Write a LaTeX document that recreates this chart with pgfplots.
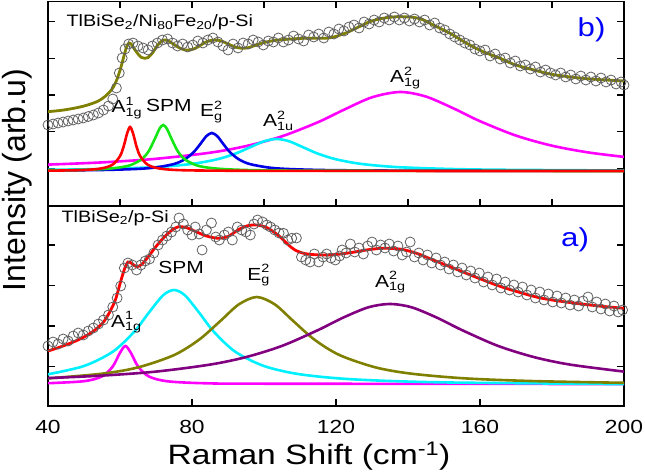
\documentclass[border=0pt]{standalone}
\usepackage{pgfplots}
\pgfplotsset{compat=1.18}
\usepackage{fontspec}
\setmainfont{Liberation Sans}[FakeStretch=1.2]
\newfontfamily\plainsans{Liberation Sans}

\definecolor{fitolive}{RGB}{128,128,0}
\definecolor{cgreen}{RGB}{20,230,20}
\definecolor{cblue}{RGB}{0,0,230}
\definecolor{ccyan}{RGB}{0,240,255}
\definecolor{cmag}{RGB}{255,0,255}
\definecolor{cpurple}{RGB}{128,0,128}
\definecolor{circ}{RGB}{95,95,95}

\newcommand\fs[1]{\fontsize{#1}{#1}\selectfont}
% letter with a superscript stacked over a subscript
\newcommand\ssx[3]{#1\raisebox{-3.5bp}{\fs{12bp}\setlength\lineskip{1.5bp}\shortstack[l]{#2\\\vphantom{1}#3}}}

\pgfplotsset{
  panel/.style={
    scale only axis, width=576bp,
    xmin=40, xmax=200,
    tick align=inside, major tick length=7bp,
    axis line style={line width=1.4bp},
    tick style={black, line width=1.3bp},
    yticklabels={},
    /pgf/number format/assume math mode=true,
  },
  comp/.style={smooth, line width=2.6bp, no markers},
  dots/.style={only marks, mark=o, mark size=5bp,
    mark options={draw=circ, line width=0.8bp}},
}
\tikzset{lbl/.style={anchor=base west, font=\fs{17.5bp}, inner sep=0pt}}

\begin{document}
\begin{tikzpicture}
\useasboundingbox (-48bp,-68bp) rectangle (597bp,406bp);

% ---------- lower panel a)
\begin{axis}[panel, at={(0,0)}, anchor=south west,
  height=200bp, ymin=0, ymax=200,
  xtick={40,80,...,200}, xtick pos=left,
  ytick={39.5,80,120.5,161},
  xticklabel style={font=\fs{19bp}, anchor=base, yshift=-27bp},
]
\addplot[dots] coordinates {
(40,60)(41.4,64)(42.8,62)(44.2,67)(45.6,65)(47,70)(48.4,73)(49.8,71)(51.2,75)(52.6,78)
(54,82)(55.4,86)(56.8,91)(58,99)(59.2,108)(60.2,120)(61.2,138)(62.2,143)(63.4,141)(64.6,136)
(65.8,141)(67,145)(68.2,147)(69.4,153)(70.6,161)(71.8,166)(73,170)(74.3,174)(75.5,179)(76.4,188)
(77.6,182)(78.8,176)(80,171)(80.9,179)(82,172)(82.8,156)(84,176)(85.4,183)(86.6,169)(87.6,166)
(89,171)(90.1,174)(91.2,166)(92.6,179)(93.8,176)(95,174)(96.2,171)(97.2,182)(98.2,186)(99.6,184)
(100.8,181)(101.8,179)(103,176)(104.2,173)(105.4,172.7)(106.6,166)(107.7,167.7)(109,168)(110.4,149)(111.6,146)
(112.8,144)(114,152)(115.2,144)(116.4,149)(117.4,152)(118.6,148)(119.8,146)(121,150)(121.7,156)(122.8,153)
(124,162)(125.2,154)(126.4,158)(127.6,152)(128.8,160)(130,164)(131.2,156)(132.4,161)(133.6,158)(134.8,162)
(136,155)(137.2,160)(138.4,151)(139.6,154)(140.6,164)(141.8,149)(143,153)(144.2,146)(145.4,151)(146.6,143)
(147.8,148)(149,141)(150.2,144)(151.4,137)(152.6,141)(153.8,134)(155,138)(156.2,131)(157.4,135)(158.6,128)
(159.8,133)(161,124)(162.2,129)(163.4,121)(164.6,127)(165.8,118)(167,124)(168.2,116)(169.4,121)(170.6,114)
(171.8,119)(173,111)(174.2,116)(175.4,108)(176.6,114)(177.8,106)(179,112)(180.2,104)(181.4,110)(182.6,103)
(183.8,108)(185,101)(186.2,106)(187.4,100)(188.6,105)(190,109)(191.2,99)(192.4,104)(193.6,97)(194.8,102)
(196,95)(197.2,100)(198.4,94)(199.6,96)
};
% A1g^1
\addplot[comp, cmag] coordinates {
(40,22.8)(50,24.8)(55,29.6)(58,39.6)(60,53.3)(61.5,60)(63,53.3)(65,39.6)(68,29.6)(73,24.8)
(83,22.8)(100,22.3)(200,22)
};
% SPM
\addplot[comp, ccyan] coordinates {
(40,31.7)(50,40)(58,54.3)(64,74.5)(68,93.3)(72,110.8)(75,116)(78,110.8)(82,93.3)(86,74.5)
(92,54.3)(100,40)(110,31.7)(125,26.6)(150,23.6)(200,21.9)
};
% Eg^2
\addplot[comp, fitolive] coordinates {
(40,27.6)(55,32.3)(65,38.6)(75,50.9)(82,66.4)(88,85.4)(93,101.6)(98,109)(103,101.6)(108,85.4)
(114,66.4)(121,50.9)(131,38.6)(141,32.3)(156,27.6)(175,24.9)(200,23.2)
};
% A1g^2
\addplot[comp, cpurple] coordinates {
(40,27.9)(55,30.4)(70,34.4)(85,41.4)(95,48.9)(105,60.1)(115,75.9)(122,88.4)(129,98.7)(135,102)
(141,98.7)(148,88.4)(155,75.9)(165,60.1)(175,48.9)(185,41.4)(200,34.4)
};
% fit
\addplot[comp, red, line width=2.8bp] coordinates {
(40,55)(43,58.5)(46,62.5)(49.5,68)(52.5,74.5)(55.2,83)(57,93)(58.7,106)(60.3,126)(61.3,137.5)
(62.2,144)(63.3,142.5)(64.6,139.3)(66,141.5)(67.8,149)(70,159.5)(72.4,169.3)(74.5,176)(76.3,179.3)(78.5,178.3)
(81,174.5)(84,170)(87.3,167.7)(90,169.5)(93,176.5)(95.5,180.3)(98,181)(101,178)(104.2,170)(106.5,162)
(108.6,156)(111.5,152.3)(115.8,151)(120,151.5)(124,153.3)(129,156.3)(133.1,157.7)(138,156.8)(142.4,152.7)(147,146)
(151.7,139.3)(156.3,132.5)(160.9,126)(164.5,121)(168.3,116.5)(175.3,109.3)(180,106)(186.7,102.7)(193,100)(200,97.7)
};
\node[anchor=base west, font=\fs{16.5bp}] at (axis cs:42.8,184) {TlBiSe\textsubscript{2}/p-Si};
\node[anchor=center, font=\fs{26bp}, text=blue] at (axis cs:186.4,166) {a)};
\node[lbl] at (axis cs:57.5,79) {\ssx{A}{1}{1g}};
\node[lbl] at (axis cs:70.6,133) {SPM};
\node[lbl] at (axis cs:95.3,126) {\ssx{E}{2}{g}};
\node[lbl] at (axis cs:130.8,119) {\ssx{A}{2}{1g}};
\end{axis}

% ---------- upper panel b)
\begin{axis}[panel, at={(0,200bp)}, anchor=south west,
  height=204.5bp, ymin=0, ymax=204.5,
  xtick={40,60,...,200}, xticklabels={},
  ytick={37.8,74.4,111,147.7,184.3},
]
\addplot[dots] coordinates {
(40,81)(41.4,82)(42.8,83)(44.2,84)(45.6,85)(47,86)(48.4,87)(49.8,88)(51.2,89.5)(52.6,91)
(54,93)(55.4,96)(56.8,100)(58,107)(59,118)(59.8,133)(60.6,148)(61.4,157)(62.4,162)(63.6,163)
(65,160)(66.4,158)(67.8,156)(69,160)(70.4,163)(71.8,166)(73.2,167)(74.6,163)(76,160)(77.4,162)
(78.8,159)(80.2,161)(81.6,165)(83,163)(84.4,166)(85.8,168)(87.2,164)(88.6,160)(90,156)(91.4,162)
(92.8,158)(94.2,163)(95.6,162)(97,166)(98.4,164)(99.8,161)(101.2,165)(102.6,164)(104,168)(105.4,164)
(106.8,166)(108.2,170)(109.6,167)(111,165)(112.4,171)(113.8,169)(115.2,172)(116.6,168)(118,174)(119.4,172)
(120.8,177)(122.2,175)(123.6,179)(125,181)(126.4,178)(127.8,184)(129.2,182)(130.6,186)(132,184)(133.4,188)
(134.8,186)(136.2,189)(137.6,186)(139,188)(140.4,185)(141.8,187)(143.2,184)(144.6,186)(146,181)(147.4,183)
(148.8,178)(150.2,176)(151.6,172)(153,169)(154.4,166)(155.8,163)(157.2,161)(158.6,157)(160,155)(161.4,156)
(162.8,150)(164.2,152)(165.6,147)(167,148)(168.4,143)(169.8,145)(171.2,140)(172.6,141)(174,137)(175.4,139)
(176.8,134)(178.2,136)(179.6,133)(181,131)(182.4,133)(183.8,129)(185.2,131)(186.6,127)(188,130)(189.4,126)
(190.8,129)(192.2,125)(193.6,128)(195,124)(196.4,126)(197.8,122)(199.2,124)(200,121)
};
% A1g^2
\addplot[comp, cmag] coordinates {
(40,41.4)(55,43.6)(70,47.2)(85,53.3)(95,59.9)(105,69.7)(115,83.8)(122,95.9)(130,108.7)(137.8,114)
(145,109.4)(153,97)(160,84.8)(170,70.4)(180,60.3)(190,53.6)(200,49.1)
};
% A1u^2
\addplot[comp, ccyan] coordinates {
(40,36.2)(55,37)(70,38.9)(80,42.1)(87,46.7)(92,52.3)(96,58.5)(100,64.7)(103.5,67)(107,64.7)
(111,58.5)(115,52.3)(120,46.7)(127,42.1)(137,38.9)(152,37)(167,36.2)(200,35.5)
};
% Eg^2
\addplot[comp, cblue] coordinates {
(40,35.5)(55,36)(65,37.1)(70,38.6)(75,42)(78,46.7)(80.5,54)(82.5,62.9)(84,69.9)(85.5,73)
(87,69.9)(88.5,62.9)(90.5,54)(93,46.7)(96,42)(101,38.6)(106,37.1)(116,36)(131,35.5)(160,35.2)(200,35.1)
};
% SPM
\addplot[comp, cgreen] coordinates {
(40,35.5)(50,36.1)(56,37.1)(60,38.6)(63,41)(66,46.7)(68,55)(70,69.7)(71,77.5)(72,81)
(73,77.5)(74,69.7)(76,55)(78,46.7)(81,41)(84,38.6)(88,37.1)(94,36.1)(104,35.5)(130,35.2)(200,35)
};
% A1g^1
\addplot[comp, red] coordinates {
(40,35.3)(50,36)(55,37.7)(58,41.5)(60,49.9)(61,59.3)(62,72.9)(62.8,79)(63.6,72.9)(64.6,59.3)
(65.6,49.9)(67.6,41.5)(70.6,37.7)(75.6,36)(85,35.4)(110,35.1)(200,35)
};
% fit
\addplot[comp, fitolive, line width=2.8bp] coordinates {
(40,94.3)(44,95.8)(48,98.3)(51,101)(54,105)(56,110)(57.6,116)(58.6,122)(59.4,129)(60.2,138)
(60.8,146)(61.4,154)(61.9,160)(62.5,163)(63.2,161.5)(64,157)(65,152)(66,148.5)(66.9,147.7)(67.8,148.5)
(69,153)(70.3,160)(71.4,164.5)(72.4,166)(73.5,165)(74.8,162)(76.3,158.5)(77.8,156.3)(79.2,156)(80.8,157.5)
(82.5,161)(84.2,164.5)(86.3,166)(88.2,165)(90,162)(92,159)(93.8,157.7)(95.5,158.2)(97.5,160.5)(100,163.5)
(104,166)(111,167.7)(118,168)(122.5,172.7)(126,178.5)(129.4,184.3)(133,187.7)(137,189.3)(141.4,188.7)(144.3,186)
(147,181)(151.7,172.7)(156.3,162.7)(160.9,154.3)(165.6,147.7)(169.5,141.5)(175,136)(180.2,131.5)(189,127.5)(200,125)
};
\node[anchor=base west, font=\fs{16.5bp}] at (axis cs:44.2,179.3)
  {TlBiSe\textsubscript{2}/Ni\textsubscript{80}Fe\textsubscript{20}/p-Si};
\node[anchor=center, font=\fs{26bp}, text=blue] at (axis cs:191,176) {b)};
\node[lbl] at (axis cs:57.6,93) {\ssx{A}{1}{1g}};
\node[lbl] at (axis cs:67.2,94) {SPM};
\node[lbl] at (axis cs:82.2,89) {\ssx{E}{2}{g}};
\node[lbl] at (axis cs:99.7,79) {\ssx{A}{2}{1u}};
\node[lbl] at (axis cs:135,123) {\ssx{A}{2}{1g}};
\end{axis}

% axis titles
\node[anchor=base, font=\fs{28bp}] at (261bp,-58bp) {Raman Shift (cm\textsuperscript{-1})};
\node[rotate=90, anchor=center, font=\plainsans\fs{32bp}] at (-31bp,226bp) {Intensity (arb.u)};
\end{tikzpicture}
\end{document}
